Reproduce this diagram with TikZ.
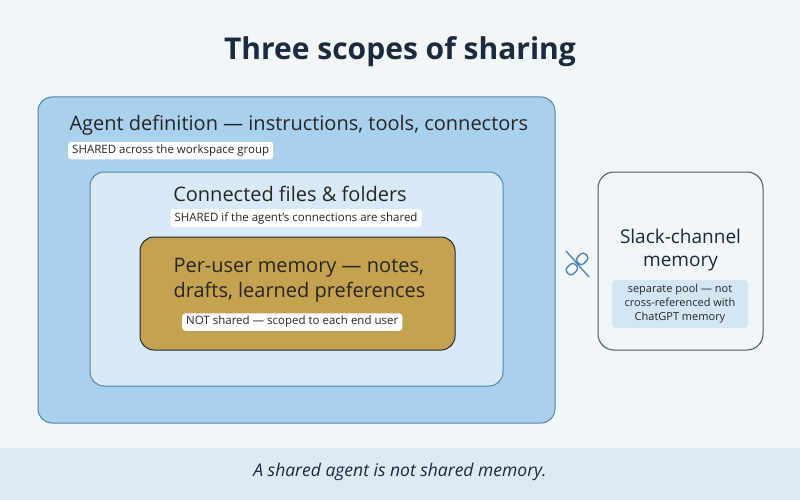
\documentclass[tikz,border=0pt]{standalone}
\usepackage{fontspec}
\setmainfont{Open Sans}
\begin{document}
\begin{tikzpicture}[x=1pt,y=-1pt,
  tag/.style={fill=white,rounded corners=3pt,inner xsep=4pt,inner ysep=3pt,font=\fontsize{11.5}{13}\selectfont,text=black!85},
  head/.style={font=\fontsize{20}{25}\selectfont,text=black!85}]
\definecolor{bg}{HTML}{F1F6F8}
\definecolor{band}{HTML}{DCEAF3}
\definecolor{outer}{HTML}{A9D0EC}
\definecolor{outerb}{HTML}{4F86B0}
\definecolor{mid}{HTML}{D8EAF5}
\definecolor{gold}{HTML}{C4A24F}
\definecolor{navy}{HTML}{1B2A3C}
\definecolor{pool}{HTML}{D2E6F3}
\useasboundingbox (0,0) rectangle (800,500);
\fill[bg] (0,0) rectangle (800,500);
\fill[band] (0,448) rectangle (800,500);
\node[font=\fontsize{30}{35}\selectfont\bfseries,text=navy] (title) at (400,52) {Three scopes of sharing};
\draw[outerb,fill=outer,rounded corners=14pt,line width=1pt] (38,97) rectangle (555,423);
\node[head,anchor=west] (agent) at (66,125) {Agent definition — instructions, tools, connectors};
\node[tag,anchor=west] (t1) at (68,150.5) {SHARED across the workspace group};
\draw[outerb,fill=mid,rounded corners=14pt,line width=1pt] (90,172) rectangle (503,386);
\node[head] (files) at (290,194) {Connected files \& folders};
\node[tag] (t2) at (296,218) {SHARED if the agent’s connections are shared};
\draw[navy,fill=gold,rounded corners=14pt,line width=1pt] (140,237) rectangle (455,350);
\node[head,anchor=west,align=left] (user) at (170,280.5) {Per-user memory — notes,\\drafts, learned preferences};
\node[tag,anchor=west] (t3) at (182,322) {NOT shared — scoped to each end user};
\draw[navy!80,fill=bg,rounded corners=16pt,line width=1pt] (598,172) rectangle (763,350);
\node[font=\fontsize{19}{23}\selectfont,text=navy,align=center] (slack) at (680.5,250) {Slack-channel\\memory};
\node[fill=pool,rounded corners=4pt,minimum width=136pt,minimum height=48pt,align=center,font=\fontsize{11}{14}\selectfont,text=black!85] (pool) at (680,304) {separate pool — not\\cross-referenced with\\ChatGPT memory};
\begin{scope}[shift={(577,264)},rotate=-45,outerb,line width=1.4pt]
  \draw[rounded corners=3.5pt] (-4.5,-13) rectangle (4.5,-1.5);
  \draw[rounded corners=3.5pt] (-4.5,1.5) rectangle (4.5,13);
  \coordinate (icon) at (0,0);
\end{scope}
\draw[outerb,line width=1.4pt] (566,251) -- (589,277);
\node[font=\fontsize{17.5}{21}\selectfont\itshape,text=navy] (foot) at (400,472) {A shared agent is not shared memory.};
\end{tikzpicture}
\end{document}
